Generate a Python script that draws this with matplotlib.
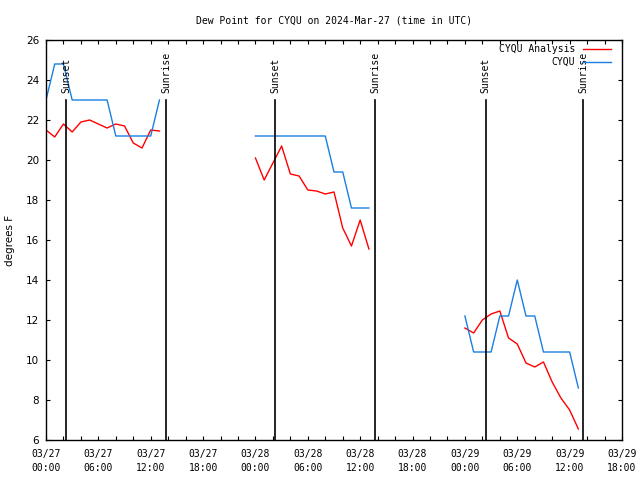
import numpy as np
import pandas as pd
import matplotlib
matplotlib.use('Agg')
import matplotlib.pyplot as plt
import matplotlib.dates as mdates

# hourly dew point obs (deg F), three runs starting at 00 UTC each day
seg_starts = ['2024-03-27 00:00', '2024-03-28 00:00', '2024-03-29 00:00']
analysis_vals = [
    [21.5, 21.15, 21.8, 21.4, 21.9, 22.0, 21.8, 21.6, 21.8, 21.7, 20.85, 20.6, 21.5, 21.45],
    [20.1, 19.0, 19.85, 20.7, 19.3, 19.2, 18.5, 18.45, 18.3, 18.4, 16.6, 15.7, 17.0, 15.55],
    [11.6, 11.35, 12.0, 12.3, 12.45, 11.1, 10.8, 9.85, 9.65, 9.9, 8.9, 8.1, 7.5, 6.55],
]
cyqu_vals = [
    [23.0, 24.8, 24.8, 23.0, 23.0, 23.0, 23.0, 23.0, 21.2, 21.2, 21.2, 21.2, 21.2, 23.0],
    [21.2, 21.2, 21.2, 21.2, 21.2, 21.2, 21.2, 21.2, 21.2, 19.4, 19.4, 17.6, 17.6, 17.6],
    [12.2, 10.4, 10.4, 10.4, 12.2, 12.2, 14.0, 12.2, 12.2, 10.4, 10.4, 10.4, 10.4, 8.6],
]
sunsets = ['2024-03-27 02:17', '2024-03-28 02:15', '2024-03-29 02:23']
sunrises = ['2024-03-27 13:45', '2024-03-28 13:42', '2024-03-29 13:32']

red = '#ff0000'
blue = '#1a7fe0'

fig = plt.figure(figsize=(6.4, 4.8), dpi=100)
ax = fig.add_axes([46/640, 40/480, 576/640, 400/480])

for i, s in enumerate(seg_starts):
    t = pd.date_range(s, periods=len(analysis_vals[i]), freq='h')
    ax.plot(t, analysis_vals[i], color=red, lw=1.0,
            label='CYQU Analysis' if i == 0 else None)
    t = pd.date_range(s, periods=len(cyqu_vals[i]), freq='h')
    ax.plot(t, cyqu_vals[i], color=blue, lw=1.0,
            label='CYQU' if i == 0 else None)

# sunrise / sunset markers
for name, times in (('Sunset', sunsets), ('Sunrise', sunrises)):
    for tt in times:
        tt = pd.Timestamp(tt)
        ax.plot([tt, tt], [6, 23], color='black', lw=1.2)
        ax.text(tt, 23.35, name, rotation=90, ha='center', va='bottom',
                family='DejaVu Sans Mono', fontsize=7)

ax.set_xlim(pd.Timestamp('2024-03-27 00:00'), pd.Timestamp('2024-03-29 18:00'))
ax.set_ylim(6, 26)
ax.set_yticks(np.arange(6, 27, 2))
ax.xaxis.set_major_locator(mdates.HourLocator(byhour=[0, 6, 12, 18]))
ax.xaxis.set_major_formatter(mdates.DateFormatter('%m/%d\n%H:%M'))
ax.xaxis.set_minor_locator(mdates.HourLocator(byhour=range(0, 24, 2)))

ax.tick_params(which='both', direction='in', top=True, right=True,
               length=3, width=0.8)
ax.tick_params(axis='x', pad=6.5)
ax.tick_params(axis='y', pad=5)
for lab in ax.get_xticklabels():
    lab.set_family('DejaVu Sans Mono')
    lab.set_fontsize(7)
    lab.set_linespacing(1.45)
for lab in ax.get_yticklabels():
    lab.set_fontsize(7.5)
for sp in ax.spines.values():
    sp.set_linewidth(1.0)

ax.set_title('Dew Point for CYQU on 2024-Mar-27 (time in UTC)',
             family='DejaVu Sans Mono', fontsize=7, pad=12)
fig.text(10/640, 0.5, 'degrees F', rotation=90, ha='center', va='center', fontsize=7.5)

ax.legend(loc='upper right', bbox_to_anchor=(611/640, 1 - 44/480),
          bbox_transform=fig.transFigure, frameon=False, markerfirst=False,
          prop={'family': 'DejaVu Sans Mono', 'size': 7},
          handlelength=2.9, handletextpad=0.8, labelspacing=0.3,
          borderpad=0, borderaxespad=0)

fig.savefig('out.png', dpi=100)
